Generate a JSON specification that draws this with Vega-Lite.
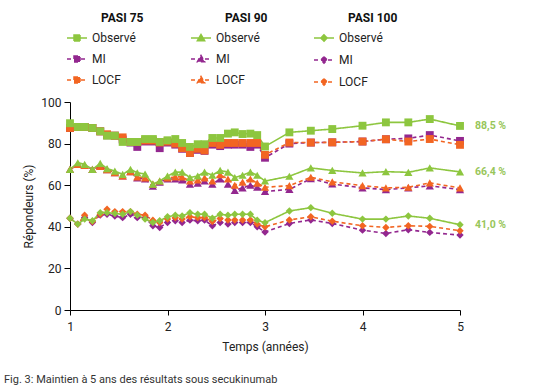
{
  "$schema": "https://vega.github.io/schema/vega-lite/v6.json",
  "width": 390,
  "height": 208,
  "autosize": {"type": "none"},
  "padding": {"left": 70, "top": 102, "right": 76, "bottom": 76},
  "background": "white",
  "title": {"text": "Fig. 3: Maintien à 5 ans des résultats sous secukinumab", "orient": "bottom", "anchor": "start", "frame": "group", "dx": -66, "offset": 22, "fontSize": 11, "fontWeight": "normal", "color": "#333", "font": "Roboto"},
  "config": {
    "view": {"stroke": null},
    "font": "Roboto",
    "axis": {"domainColor": "#000", "tickColor": "#000", "labelColor": "#222", "titleColor": "#222", "labelFont": "Roboto", "titleFont": "Roboto", "labelFontSize": 12, "titleFontSize": 12, "titleFontWeight": "normal", "grid": false},
    "legend": {"orient": "none", "padding": 0, "symbolSize": 400, "symbolStrokeWidth": 1.5, "labelFont": "Roboto", "labelFontSize": 12, "labelColor": "#222", "titleFont": "Roboto", "titleFontSize": 12, "titleFontWeight": "bold", "titleColor": "#111", "labelOffset": 4, "rowPadding": 4, "titlePadding": 2, "titleAnchor": "middle", "titleAlign": "left"}
  },
  "datasets": {
    "series": [
      {"pasi":"75","serie":"MI","t":1,"v":87.5},{"pasi":"75","serie":"MI","t":1.08,"v":88.0},{"pasi":"75","serie":"MI","t":1.15,"v":88.0},{"pasi":"75","serie":"MI","t":1.23,"v":87.5},{"pasi":"75","serie":"MI","t":1.31,"v":85.9},{"pasi":"75","serie":"MI","t":1.38,"v":84.0},{"pasi":"75","serie":"MI","t":1.46,"v":83.8},{"pasi":"75","serie":"MI","t":1.54,"v":82.0},{"pasi":"75","serie":"MI","t":1.62,"v":80.5},{"pasi":"75","serie":"MI","t":1.69,"v":78.4},
      {"pasi":"75","serie":"MI","t":1.77,"v":81.0},{"pasi":"75","serie":"MI","t":1.85,"v":81.0},{"pasi":"75","serie":"MI","t":1.92,"v":77.8},{"pasi":"75","serie":"MI","t":2,"v":80.5},{"pasi":"75","serie":"MI","t":2.08,"v":79.5},{"pasi":"75","serie":"MI","t":2.15,"v":77.5},{"pasi":"75","serie":"MI","t":2.23,"v":75.5},{"pasi":"75","serie":"MI","t":2.31,"v":77.0},{"pasi":"75","serie":"MI","t":2.38,"v":76.5},{"pasi":"75","serie":"MI","t":2.46,"v":79.5},
      {"pasi":"75","serie":"MI","t":2.54,"v":78.8},{"pasi":"75","serie":"MI","t":2.62,"v":79.5},{"pasi":"75","serie":"MI","t":2.69,"v":79.5},{"pasi":"75","serie":"MI","t":2.77,"v":79.5},{"pasi":"75","serie":"MI","t":2.85,"v":78.4},{"pasi":"75","serie":"MI","t":2.92,"v":79.5},{"pasi":"75","serie":"MI","t":3,"v":73.2},
      {"pasi":"75","serie":"MI","t":3.25,"v":80.0},{"pasi":"75","serie":"MI","t":3.47,"v":80.5},{"pasi":"75","serie":"MI","t":3.69,"v":80.6},{"pasi":"75","serie":"MI","t":4,"v":81.0},{"pasi":"75","serie":"MI","t":4.24,"v":82.1},{"pasi":"75","serie":"MI","t":4.47,"v":82.5},{"pasi":"75","serie":"MI","t":4.69,"v":84.1},{"pasi":"75","serie":"MI","t":5,"v":81.3},

      {"pasi":"90","serie":"MI","t":1,"v":67.6},{"pasi":"90","serie":"MI","t":1.08,"v":70.0},{"pasi":"90","serie":"MI","t":1.15,"v":69.5},{"pasi":"90","serie":"MI","t":1.23,"v":67.6},{"pasi":"90","serie":"MI","t":1.31,"v":69.0},{"pasi":"90","serie":"MI","t":1.38,"v":67.5},{"pasi":"90","serie":"MI","t":1.46,"v":66.0},{"pasi":"90","serie":"MI","t":1.54,"v":64.5},{"pasi":"90","serie":"MI","t":1.62,"v":66.5},{"pasi":"90","serie":"MI","t":1.69,"v":63.5},
      {"pasi":"90","serie":"MI","t":1.77,"v":63.0},{"pasi":"90","serie":"MI","t":1.85,"v":59.5},{"pasi":"90","serie":"MI","t":1.92,"v":61.5},{"pasi":"90","serie":"MI","t":2,"v":63.0},{"pasi":"90","serie":"MI","t":2.08,"v":63.0},{"pasi":"90","serie":"MI","t":2.15,"v":62.5},{"pasi":"90","serie":"MI","t":2.23,"v":60.5},{"pasi":"90","serie":"MI","t":2.31,"v":61.0},{"pasi":"90","serie":"MI","t":2.38,"v":62.0},{"pasi":"90","serie":"MI","t":2.46,"v":60.5},
      {"pasi":"90","serie":"MI","t":2.54,"v":63.0},{"pasi":"90","serie":"MI","t":2.62,"v":60.5},{"pasi":"90","serie":"MI","t":2.69,"v":57.5},{"pasi":"90","serie":"MI","t":2.77,"v":58.7},{"pasi":"90","serie":"MI","t":2.85,"v":60.0},{"pasi":"90","serie":"MI","t":2.92,"v":59.0},{"pasi":"90","serie":"MI","t":3,"v":57.0},
      {"pasi":"90","serie":"MI","t":3.25,"v":58.0},{"pasi":"90","serie":"MI","t":3.47,"v":63.1},{"pasi":"90","serie":"MI","t":3.69,"v":60.6},{"pasi":"90","serie":"MI","t":4,"v":58.7},{"pasi":"90","serie":"MI","t":4.24,"v":57.9},{"pasi":"90","serie":"MI","t":4.47,"v":58.7},{"pasi":"90","serie":"MI","t":4.69,"v":59.7},{"pasi":"90","serie":"MI","t":5,"v":57.9},

      {"pasi":"100","serie":"MI","t":1,"v":44.1},{"pasi":"100","serie":"MI","t":1.08,"v":41.3},{"pasi":"100","serie":"MI","t":1.15,"v":44.5},{"pasi":"100","serie":"MI","t":1.23,"v":42.1},{"pasi":"100","serie":"MI","t":1.31,"v":45.6},{"pasi":"100","serie":"MI","t":1.38,"v":46.0},{"pasi":"100","serie":"MI","t":1.46,"v":45.2},{"pasi":"100","serie":"MI","t":1.54,"v":44.4},{"pasi":"100","serie":"MI","t":1.62,"v":46.0},{"pasi":"100","serie":"MI","t":1.69,"v":44.4},
      {"pasi":"100","serie":"MI","t":1.77,"v":44.4},{"pasi":"100","serie":"MI","t":1.85,"v":40.5},{"pasi":"100","serie":"MI","t":1.92,"v":39.7},{"pasi":"100","serie":"MI","t":2,"v":42.1},{"pasi":"100","serie":"MI","t":2.08,"v":42.9},{"pasi":"100","serie":"MI","t":2.15,"v":42.1},{"pasi":"100","serie":"MI","t":2.23,"v":43.2},{"pasi":"100","serie":"MI","t":2.31,"v":42.9},{"pasi":"100","serie":"MI","t":2.38,"v":43.2},{"pasi":"100","serie":"MI","t":2.46,"v":40.5},
      {"pasi":"100","serie":"MI","t":2.54,"v":42.1},{"pasi":"100","serie":"MI","t":2.62,"v":41.3},{"pasi":"100","serie":"MI","t":2.69,"v":42.1},{"pasi":"100","serie":"MI","t":2.77,"v":42.1},{"pasi":"100","serie":"MI","t":2.85,"v":42.1},{"pasi":"100","serie":"MI","t":2.92,"v":40.0},{"pasi":"100","serie":"MI","t":3,"v":37.5},
      {"pasi":"100","serie":"MI","t":3.25,"v":41.6},{"pasi":"100","serie":"MI","t":3.47,"v":43.3},{"pasi":"100","serie":"MI","t":3.69,"v":41.6},{"pasi":"100","serie":"MI","t":4,"v":38.4},{"pasi":"100","serie":"MI","t":4.24,"v":36.8},{"pasi":"100","serie":"MI","t":4.47,"v":38.6},{"pasi":"100","serie":"MI","t":4.69,"v":37.3},{"pasi":"100","serie":"MI","t":5,"v":36.0},

      {"pasi":"75","serie":"LOCF","t":1,"v":87.5},{"pasi":"75","serie":"LOCF","t":1.08,"v":88.0},{"pasi":"75","serie":"LOCF","t":1.15,"v":88.0},{"pasi":"75","serie":"LOCF","t":1.23,"v":87.5},{"pasi":"75","serie":"LOCF","t":1.31,"v":85.9},{"pasi":"75","serie":"LOCF","t":1.38,"v":84.5},{"pasi":"75","serie":"LOCF","t":1.46,"v":83.8},{"pasi":"75","serie":"LOCF","t":1.54,"v":83.0},{"pasi":"75","serie":"LOCF","t":1.62,"v":80.8},{"pasi":"75","serie":"LOCF","t":1.69,"v":80.8},
      {"pasi":"75","serie":"LOCF","t":1.77,"v":81.5},{"pasi":"75","serie":"LOCF","t":1.85,"v":81.5},{"pasi":"75","serie":"LOCF","t":1.92,"v":80.5},{"pasi":"75","serie":"LOCF","t":2,"v":81.0},{"pasi":"75","serie":"LOCF","t":2.08,"v":80.0},{"pasi":"75","serie":"LOCF","t":2.15,"v":77.8},{"pasi":"75","serie":"LOCF","t":2.23,"v":75.5},{"pasi":"75","serie":"LOCF","t":2.31,"v":77.5},{"pasi":"75","serie":"LOCF","t":2.38,"v":76.7},{"pasi":"75","serie":"LOCF","t":2.46,"v":80.3},
      {"pasi":"75","serie":"LOCF","t":2.54,"v":79.4},{"pasi":"75","serie":"LOCF","t":2.62,"v":80.3},{"pasi":"75","serie":"LOCF","t":2.69,"v":80.3},{"pasi":"75","serie":"LOCF","t":2.77,"v":80.3},{"pasi":"75","serie":"LOCF","t":2.85,"v":80.3},{"pasi":"75","serie":"LOCF","t":2.92,"v":80.3},{"pasi":"75","serie":"LOCF","t":3,"v":74.6},
      {"pasi":"75","serie":"LOCF","t":3.25,"v":80.5},{"pasi":"75","serie":"LOCF","t":3.47,"v":80.5},{"pasi":"75","serie":"LOCF","t":3.69,"v":80.6},{"pasi":"75","serie":"LOCF","t":4,"v":81.0},{"pasi":"75","serie":"LOCF","t":4.24,"v":82.1},{"pasi":"75","serie":"LOCF","t":4.47,"v":81.0},{"pasi":"75","serie":"LOCF","t":4.69,"v":82.2},{"pasi":"75","serie":"LOCF","t":5,"v":79.4},

      {"pasi":"90","serie":"LOCF","t":1,"v":67.6},{"pasi":"90","serie":"LOCF","t":1.08,"v":70.0},{"pasi":"90","serie":"LOCF","t":1.15,"v":69.5},{"pasi":"90","serie":"LOCF","t":1.23,"v":67.6},{"pasi":"90","serie":"LOCF","t":1.31,"v":69.0},{"pasi":"90","serie":"LOCF","t":1.38,"v":67.5},{"pasi":"90","serie":"LOCF","t":1.46,"v":66.0},{"pasi":"90","serie":"LOCF","t":1.54,"v":64.5},{"pasi":"90","serie":"LOCF","t":1.62,"v":66.5},{"pasi":"90","serie":"LOCF","t":1.69,"v":64.0},
      {"pasi":"90","serie":"LOCF","t":1.77,"v":63.5},{"pasi":"90","serie":"LOCF","t":1.85,"v":60.5},{"pasi":"90","serie":"LOCF","t":1.92,"v":62.0},{"pasi":"90","serie":"LOCF","t":2,"v":63.5},{"pasi":"90","serie":"LOCF","t":2.08,"v":64.0},{"pasi":"90","serie":"LOCF","t":2.15,"v":64.0},{"pasi":"90","serie":"LOCF","t":2.23,"v":62.0},{"pasi":"90","serie":"LOCF","t":2.31,"v":62.5},{"pasi":"90","serie":"LOCF","t":2.38,"v":63.5},{"pasi":"90","serie":"LOCF","t":2.46,"v":62.0},
      {"pasi":"90","serie":"LOCF","t":2.54,"v":65.0},{"pasi":"90","serie":"LOCF","t":2.62,"v":63.0},{"pasi":"90","serie":"LOCF","t":2.69,"v":60.0},{"pasi":"90","serie":"LOCF","t":2.77,"v":61.5},{"pasi":"90","serie":"LOCF","t":2.85,"v":63.0},{"pasi":"90","serie":"LOCF","t":2.92,"v":61.0},{"pasi":"90","serie":"LOCF","t":3,"v":59.0},
      {"pasi":"90","serie":"LOCF","t":3.25,"v":59.8},{"pasi":"90","serie":"LOCF","t":3.47,"v":63.8},{"pasi":"90","serie":"LOCF","t":3.69,"v":61.6},{"pasi":"90","serie":"LOCF","t":4,"v":59.8},{"pasi":"90","serie":"LOCF","t":4.24,"v":58.7},{"pasi":"90","serie":"LOCF","t":4.47,"v":59.0},{"pasi":"90","serie":"LOCF","t":4.69,"v":61.1},{"pasi":"90","serie":"LOCF","t":5,"v":58.7},

      {"pasi":"100","serie":"LOCF","t":1,"v":44.1},{"pasi":"100","serie":"LOCF","t":1.08,"v":41.3},{"pasi":"100","serie":"LOCF","t":1.15,"v":45.6},{"pasi":"100","serie":"LOCF","t":1.23,"v":42.5},{"pasi":"100","serie":"LOCF","t":1.31,"v":46.0},{"pasi":"100","serie":"LOCF","t":1.38,"v":48.4},{"pasi":"100","serie":"LOCF","t":1.46,"v":47.3},{"pasi":"100","serie":"LOCF","t":1.54,"v":47.3},{"pasi":"100","serie":"LOCF","t":1.62,"v":47.3},{"pasi":"100","serie":"LOCF","t":1.69,"v":46.0},
      {"pasi":"100","serie":"LOCF","t":1.77,"v":45.6},{"pasi":"100","serie":"LOCF","t":1.85,"v":43.2},{"pasi":"100","serie":"LOCF","t":1.92,"v":42.0},{"pasi":"100","serie":"LOCF","t":2,"v":43.7},{"pasi":"100","serie":"LOCF","t":2.08,"v":44.4},{"pasi":"100","serie":"LOCF","t":2.15,"v":43.7},{"pasi":"100","serie":"LOCF","t":2.23,"v":44.8},{"pasi":"100","serie":"LOCF","t":2.31,"v":44.4},{"pasi":"100","serie":"LOCF","t":2.38,"v":44.4},{"pasi":"100","serie":"LOCF","t":2.46,"v":42.5},
      {"pasi":"100","serie":"LOCF","t":2.54,"v":44.0},{"pasi":"100","serie":"LOCF","t":2.62,"v":43.3},{"pasi":"100","serie":"LOCF","t":2.69,"v":43.3},{"pasi":"100","serie":"LOCF","t":2.77,"v":43.3},{"pasi":"100","serie":"LOCF","t":2.85,"v":43.3},{"pasi":"100","serie":"LOCF","t":2.92,"v":41.3},{"pasi":"100","serie":"LOCF","t":3,"v":40.0},
      {"pasi":"100","serie":"LOCF","t":3.25,"v":43.3},{"pasi":"100","serie":"LOCF","t":3.47,"v":44.8},{"pasi":"100","serie":"LOCF","t":3.69,"v":42.7},{"pasi":"100","serie":"LOCF","t":4,"v":40.5},{"pasi":"100","serie":"LOCF","t":4.24,"v":39.7},{"pasi":"100","serie":"LOCF","t":4.47,"v":40.5},{"pasi":"100","serie":"LOCF","t":4.69,"v":40.2},{"pasi":"100","serie":"LOCF","t":5,"v":38.1},

      {"pasi":"75","serie":"Observé","t":1,"v":89.8},{"pasi":"75","serie":"Observé","t":1.08,"v":88.0},{"pasi":"75","serie":"Observé","t":1.15,"v":88.0},{"pasi":"75","serie":"Observé","t":1.23,"v":87.5},{"pasi":"75","serie":"Observé","t":1.31,"v":85.9},{"pasi":"75","serie":"Observé","t":1.38,"v":83.8},{"pasi":"75","serie":"Observé","t":1.46,"v":83.8},{"pasi":"75","serie":"Observé","t":1.54,"v":80.8},{"pasi":"75","serie":"Observé","t":1.62,"v":80.8},{"pasi":"75","serie":"Observé","t":1.69,"v":80.8},
      {"pasi":"75","serie":"Observé","t":1.77,"v":82.2},{"pasi":"75","serie":"Observé","t":1.85,"v":82.2},{"pasi":"75","serie":"Observé","t":1.92,"v":80.8},{"pasi":"75","serie":"Observé","t":2,"v":81.6},{"pasi":"75","serie":"Observé","t":2.08,"v":82.2},{"pasi":"75","serie":"Observé","t":2.15,"v":80.3},{"pasi":"75","serie":"Observé","t":2.23,"v":78.4},{"pasi":"75","serie":"Observé","t":2.31,"v":79.7},{"pasi":"75","serie":"Observé","t":2.38,"v":79.7},{"pasi":"75","serie":"Observé","t":2.46,"v":82.7},
      {"pasi":"75","serie":"Observé","t":2.54,"v":82.7},{"pasi":"75","serie":"Observé","t":2.62,"v":84.8},{"pasi":"75","serie":"Observé","t":2.69,"v":85.4},{"pasi":"75","serie":"Observé","t":2.77,"v":84.6},{"pasi":"75","serie":"Observé","t":2.85,"v":84.8},{"pasi":"75","serie":"Observé","t":2.92,"v":84.1},{"pasi":"75","serie":"Observé","t":3,"v":78.6},
      {"pasi":"75","serie":"Observé","t":3.25,"v":85.4},{"pasi":"75","serie":"Observé","t":3.47,"v":86.2},{"pasi":"75","serie":"Observé","t":3.69,"v":87.0},{"pasi":"75","serie":"Observé","t":4,"v":88.6},{"pasi":"75","serie":"Observé","t":4.24,"v":90.2},{"pasi":"75","serie":"Observé","t":4.47,"v":90.2},{"pasi":"75","serie":"Observé","t":4.69,"v":91.8},{"pasi":"75","serie":"Observé","t":5,"v":88.5},

      {"pasi":"90","serie":"Observé","t":1,"v":67.6},{"pasi":"90","serie":"Observé","t":1.08,"v":70.8},{"pasi":"90","serie":"Observé","t":1.15,"v":70.0},{"pasi":"90","serie":"Observé","t":1.23,"v":67.6},{"pasi":"90","serie":"Observé","t":1.31,"v":70.5},{"pasi":"90","serie":"Observé","t":1.38,"v":68.0},{"pasi":"90","serie":"Observé","t":1.46,"v":66.8},{"pasi":"90","serie":"Observé","t":1.54,"v":65.2},{"pasi":"90","serie":"Observé","t":1.62,"v":67.6},{"pasi":"90","serie":"Observé","t":1.69,"v":66.0},
      {"pasi":"90","serie":"Observé","t":1.77,"v":65.4},{"pasi":"90","serie":"Observé","t":1.85,"v":60.5},{"pasi":"90","serie":"Observé","t":1.92,"v":62.0},{"pasi":"90","serie":"Observé","t":2,"v":64.4},{"pasi":"90","serie":"Observé","t":2.08,"v":66.3},{"pasi":"90","serie":"Observé","t":2.15,"v":66.3},{"pasi":"90","serie":"Observé","t":2.23,"v":63.7},{"pasi":"90","serie":"Observé","t":2.31,"v":64.4},{"pasi":"90","serie":"Observé","t":2.38,"v":66.3},{"pasi":"90","serie":"Observé","t":2.46,"v":64.8},
      {"pasi":"90","serie":"Observé","t":2.54,"v":67.1},{"pasi":"90","serie":"Observé","t":2.62,"v":66.3},{"pasi":"90","serie":"Observé","t":2.69,"v":63.7},{"pasi":"90","serie":"Observé","t":2.77,"v":64.8},{"pasi":"90","serie":"Observé","t":2.85,"v":66.3},{"pasi":"90","serie":"Observé","t":2.92,"v":64.8},{"pasi":"90","serie":"Observé","t":3,"v":62.0},
      {"pasi":"90","serie":"Observé","t":3.25,"v":64.3},{"pasi":"90","serie":"Observé","t":3.47,"v":68.3},{"pasi":"90","serie":"Observé","t":3.69,"v":67.1},{"pasi":"90","serie":"Observé","t":4,"v":65.9},{"pasi":"90","serie":"Observé","t":4.24,"v":66.5},{"pasi":"90","serie":"Observé","t":4.47,"v":66.2},{"pasi":"90","serie":"Observé","t":4.69,"v":68.3},{"pasi":"90","serie":"Observé","t":5,"v":66.4},

      {"pasi":"100","serie":"Observé","t":1,"v":44.1},{"pasi":"100","serie":"Observé","t":1.08,"v":41.3},{"pasi":"100","serie":"Observé","t":1.15,"v":43.7},{"pasi":"100","serie":"Observé","t":1.23,"v":42.9},{"pasi":"100","serie":"Observé","t":1.31,"v":46.8},{"pasi":"100","serie":"Observé","t":1.38,"v":46.8},{"pasi":"100","serie":"Observé","t":1.46,"v":46.4},{"pasi":"100","serie":"Observé","t":1.54,"v":46.0},{"pasi":"100","serie":"Observé","t":1.62,"v":47.3},{"pasi":"100","serie":"Observé","t":1.69,"v":45.6},
      {"pasi":"100","serie":"Observé","t":1.77,"v":43.7},{"pasi":"100","serie":"Observé","t":1.85,"v":42.1},{"pasi":"100","serie":"Observé","t":1.92,"v":42.9},{"pasi":"100","serie":"Observé","t":2,"v":44.8},{"pasi":"100","serie":"Observé","t":2.08,"v":45.6},{"pasi":"100","serie":"Observé","t":2.15,"v":45.2},{"pasi":"100","serie":"Observé","t":2.23,"v":46.8},{"pasi":"100","serie":"Observé","t":2.31,"v":46.0},{"pasi":"100","serie":"Observé","t":2.38,"v":46.0},{"pasi":"100","serie":"Observé","t":2.46,"v":44.1},
      {"pasi":"100","serie":"Observé","t":2.54,"v":46.0},{"pasi":"100","serie":"Observé","t":2.62,"v":45.6},{"pasi":"100","serie":"Observé","t":2.69,"v":46.0},{"pasi":"100","serie":"Observé","t":2.77,"v":46.0},{"pasi":"100","serie":"Observé","t":2.85,"v":46.0},{"pasi":"100","serie":"Observé","t":2.92,"v":43.2},{"pasi":"100","serie":"Observé","t":3,"v":42.0},
      {"pasi":"100","serie":"Observé","t":3.25,"v":47.6},{"pasi":"100","serie":"Observé","t":3.47,"v":49.2},{"pasi":"100","serie":"Observé","t":3.69,"v":46.5},{"pasi":"100","serie":"Observé","t":4,"v":43.7},{"pasi":"100","serie":"Observé","t":4.24,"v":43.7},{"pasi":"100","serie":"Observé","t":4.47,"v":45.2},{"pasi":"100","serie":"Observé","t":4.69,"v":44.1},{"pasi":"100","serie":"Observé","t":5,"v":41.0}
    ],
    "labels": [
      {"t": 5, "v": 88.5, "label": "88,5 %"},
      {"t": 5, "v": 66.4, "label": "66,4 %"},
      {"t": 5, "v": 41.0, "label": "41,0 %"}
    ]
  },
  "encoding": {
    "x": {"field": "t", "type": "quantitative", "scale": {"domain": [1, 5], "nice": false, "zero": false},
      "axis": {"title": "Temps (années)", "values": [1, 2, 3, 4, 5], "format": "d", "tickSize": 5, "labelPadding": 6, "titlePadding": 9, "labelFlush": false}},
    "y": {"field": "v", "type": "quantitative", "scale": {"domain": [0, 100], "nice": false},
      "axis": {"title": "Répondeurs (%)", "values": [0, 20, 40, 60, 80, 100], "tickSize": 6, "labelPadding": 3, "titlePadding": 5}}
  },
  "layer": [
    {
      "data": {"name": "series"},
      "transform": [{"filter": "datum.pasi == '75'"}],
      "layer": [
        {"mark": {"type": "line", "strokeWidth": 1.6},
          "encoding": {
            "stroke": {"field": "serie", "type": "nominal", "scale": {"domain": ["Observé", "MI", "LOCF"], "range": ["#8dc63f", "#93278f", "#f26522"]},
              "legend": {"title": "PASI 75", "symbolType": "M-1,0H1M-0.3,-0.3H0.3V0.3H-0.3Z", "legendX": -4, "legendY": -89}},
            "strokeDash": {"field": "serie", "type": "nominal", "scale": {"domain": ["Observé", "MI", "LOCF"], "range": [[1, 0], [4, 3], [4, 3]]}, "legend": null}
          }},
        {"mark": {"type": "point", "shape": "square", "filled": true, "size": 62, "opacity": 1, "strokeWidth": 0},
          "encoding": {
            "fill": {"field": "serie", "type": "nominal", "scale": {"domain": ["Observé", "MI", "LOCF"], "range": ["#8dc63f", "#93278f", "#f26522"]},
              "legend": {"title": "PASI 75", "symbolType": "M-1,0H1M-0.3,-0.3H0.3V0.3H-0.3Z", "legendX": -4, "legendY": -89}}
          }}
      ]
    },
    {
      "data": {"name": "series"},
      "transform": [{"filter": "datum.pasi == '90'"}],
      "layer": [
        {"mark": {"type": "line", "strokeWidth": 1.6},
          "encoding": {
            "stroke": {"field": "serie", "type": "nominal", "scale": {"domain": ["Observé", "MI", "LOCF"], "range": ["#8dc63f", "#93278f", "#f26522"]},
              "legend": {"title": "PASI 90", "symbolType": "M-1,0H1M0,-0.36L0.36,0.27H-0.36Z", "legendX": 120, "legendY": -89}},
            "strokeDash": {"field": "serie", "type": "nominal", "scale": {"domain": ["Observé", "MI", "LOCF"], "range": [[1, 0], [4, 3], [4, 3]]}, "legend": null}
          }},
        {"mark": {"type": "point", "shape": "triangle-up", "filled": true, "size": 68, "opacity": 1, "strokeWidth": 0},
          "encoding": {
            "fill": {"field": "serie", "type": "nominal", "scale": {"domain": ["Observé", "MI", "LOCF"], "range": ["#8dc63f", "#93278f", "#f26522"]},
              "legend": {"title": "PASI 90", "symbolType": "M-1,0H1M0,-0.36L0.36,0.27H-0.36Z", "legendX": 120, "legendY": -89}}
          }}
      ]
    },
    {
      "data": {"name": "series"},
      "transform": [{"filter": "datum.pasi == '100'"}],
      "layer": [
        {"mark": {"type": "line", "strokeWidth": 1.6},
          "encoding": {
            "stroke": {"field": "serie", "type": "nominal", "scale": {"domain": ["Observé", "MI", "LOCF"], "range": ["#8dc63f", "#93278f", "#f26522"]},
              "legend": {"title": "PASI 100", "symbolType": "M-1,0H1M0,-0.32L0.32,0L0,0.32L-0.32,0Z", "legendX": 243, "legendY": -89}},
            "strokeDash": {"field": "serie", "type": "nominal", "scale": {"domain": ["Observé", "MI", "LOCF"], "range": [[1, 0], [4, 3], [4, 3]]}, "legend": null}
          }},
        {"mark": {"type": "point", "shape": "diamond", "filled": true, "size": 55, "opacity": 1, "strokeWidth": 0},
          "encoding": {
            "fill": {"field": "serie", "type": "nominal", "scale": {"domain": ["Observé", "MI", "LOCF"], "range": ["#8dc63f", "#93278f", "#f26522"]},
              "legend": {"title": "PASI 100", "symbolType": "M-1,0H1M0,-0.32L0.32,0L0,0.32L-0.32,0Z", "legendX": 243, "legendY": -89}}
          }}
      ]
    },
    {
      "data": {"name": "labels"},
      "mark": {"type": "text", "align": "left", "baseline": "middle", "dx": 15, "fontSize": 10.5, "fontWeight": "bold", "color": "#98c65a"},
      "encoding": {"text": {"field": "label"}}
    }
  ],
  "resolve": {
    "scale": {"fill": "independent", "stroke": "independent", "strokeDash": "independent"},
    "legend": {"fill": "independent", "stroke": "independent"}
  }
}
